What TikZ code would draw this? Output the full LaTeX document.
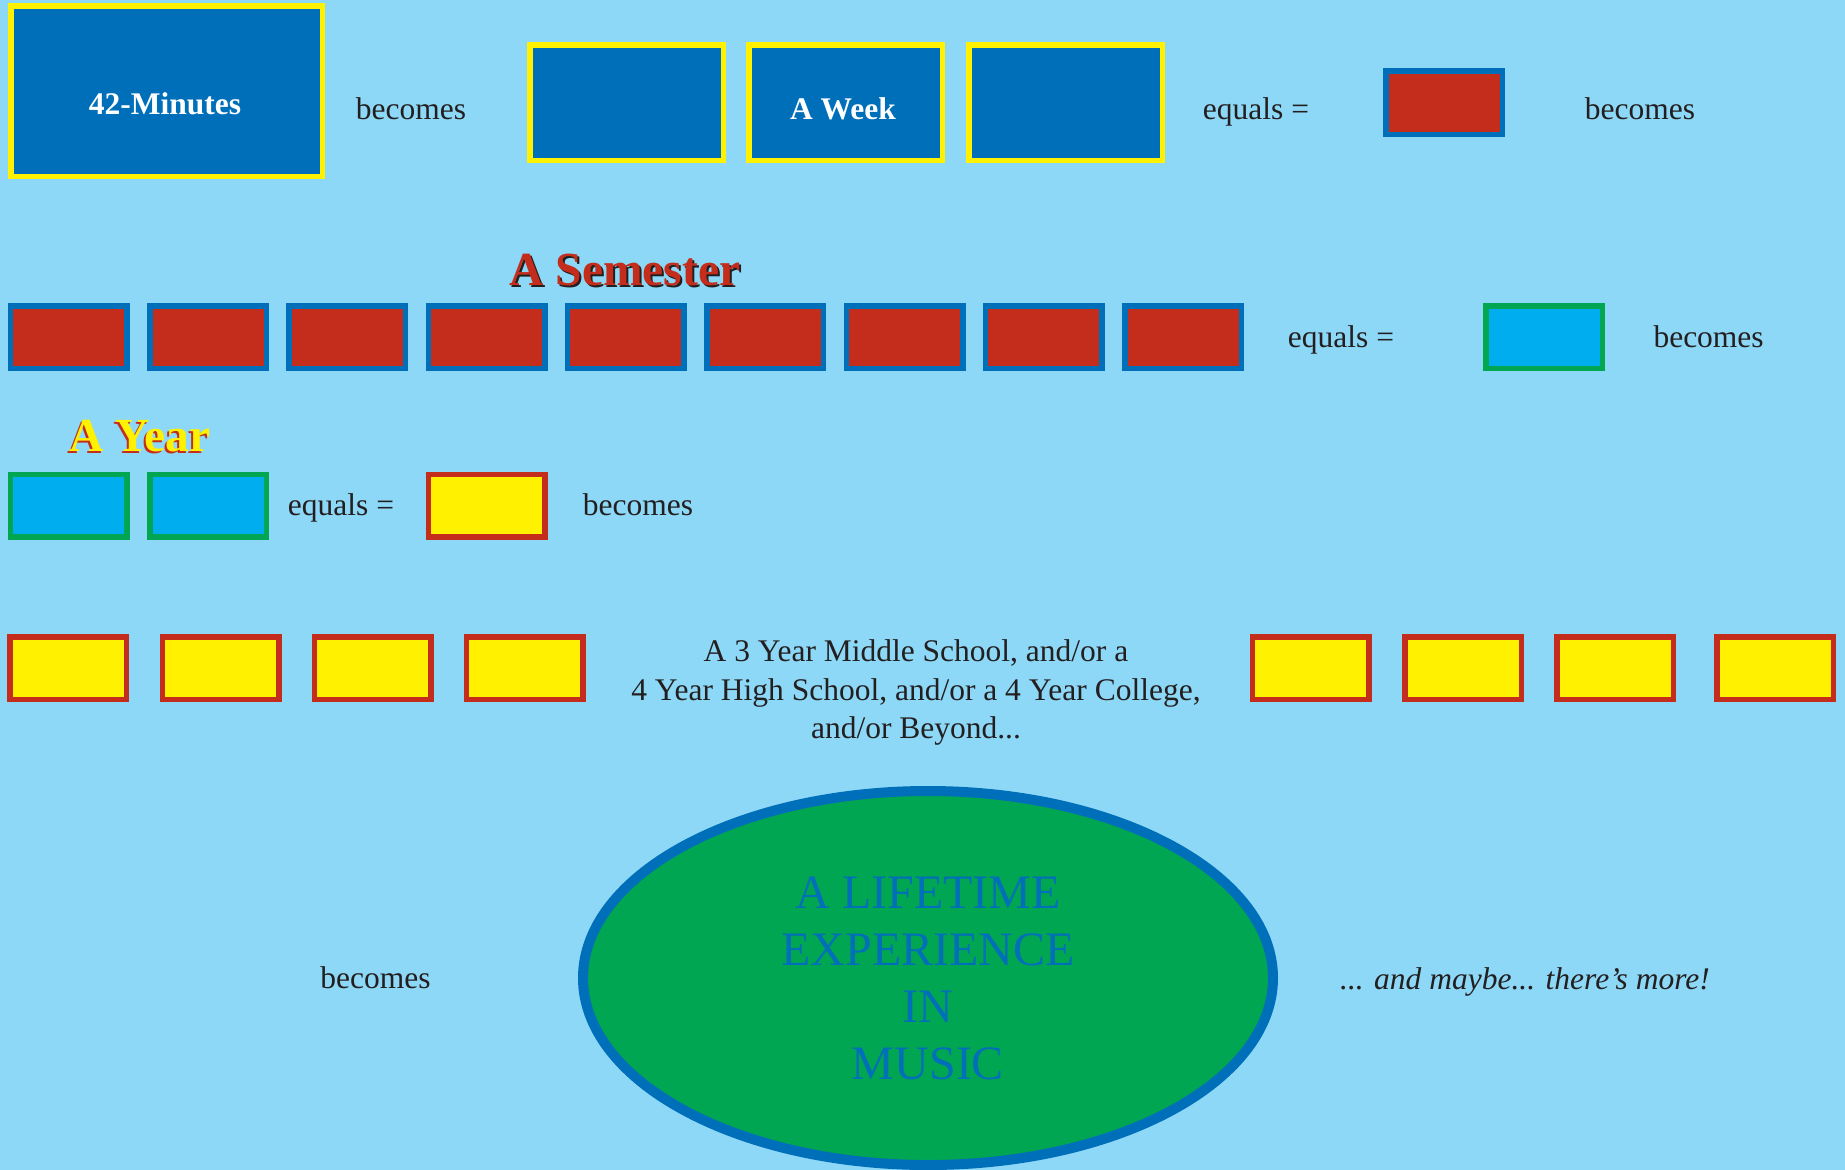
\documentclass[tikz,border=0pt]{standalone}
\usepackage{fontspec}
\setmainfont{Liberation Serif}
\usetikzlibrary{shapes.geometric}
\definecolor{bgblue}{RGB}{141,216,246}
\definecolor{dblue}{RGB}{0,111,186}
\definecolor{yel}{RGB}{255,241,0}
\definecolor{rd}{RGB}{196,45,28}
\definecolor{cy}{RGB}{0,173,238}
\definecolor{gr}{RGB}{0,166,81}
\definecolor{tcol}{RGB}{35,31,32}
\tikzset{
  box/.style={rectangle, inner sep=0pt, line width=5.5pt},
  bigbox/.style={box, fill=dblue, draw=yel, minimum width=311.5pt, minimum height=170.5pt},
  wkbox/.style={box, fill=dblue, draw=yel, minimum width=193.5pt, minimum height=115.5pt},
  redbox/.style={box, fill=rd, draw=dblue, minimum width=116.5pt, minimum height=62.5pt},
  cybox/.style={box, fill=cy, draw=gr, minimum width=116.5pt, minimum height=62.5pt},
  yelbox/.style={box, fill=yel, draw=rd, minimum width=116.5pt, minimum height=62.5pt},
  txt/.style={font=\fontsize{31.5}{38.5}\selectfont, text=tcol, inner sep=0pt, anchor=base},
  wtxt/.style={font=\fontsize{31.5}{38.5}\selectfont\bfseries, text=white, inner sep=0pt, anchor=base},
  title/.style={font=\fontsize{47.5}{52}\selectfont\bfseries, inner sep=0pt, anchor=base}
}
\begin{document}
\begin{tikzpicture}[x=1pt,y=-1pt]
\path[fill=bgblue,use as bounding box] (0,0) rectangle (1845,1170);
% Row 1
\node[bigbox] (min) at (166.5,91) {};
\node[wtxt] (mint) at (165,114) {42-Minutes};
\node[txt] (b1) at (411,119) {becomes};
\node[wkbox] (w1) at (626.5,102.5) {};
\node[wkbox] (w2) at (845.5,102.5) {};
\node[wtxt] (wkt) at (843,119) {A Week};
\node[wkbox] (w3) at (1065.5,102.5) {};
\node[txt] (e1) at (1256,119) {equals =};
\node[box, fill=rd, draw=dblue, minimum width=116.5pt, minimum height=63.5pt] (r0) at (1444,102.5) {};
\node[txt] (b2) at (1640,119) {becomes};
% Row 2
\node[title, text=tcol] (semsh) at (627,287) {A Semester};
\node[title, text=rd] (sem) at (625,285) {A Semester};
\foreach \i in {0,...,8} {
  \node[redbox] (s\i) at (68.7+139.3*\i,337) {};
}
\node[txt] (e2) at (1341,347) {equals =};
\node[cybox] (c0) at (1544,337) {};
\node[txt] (b3) at (1708.6,347) {becomes};
% Row 3
\node[title, text=rd] (yrsh) at (138,453) {A Year};
\node[title, text=yel] (yr) at (140,451) {A Year};
\node[cybox] (c1) at (68.7,505.5) {};
\node[cybox] (c2) at (208,505.5) {};
\node[txt] (e3) at (341,515) {equals =};
\node[yelbox] (y0) at (486.5,505.5) {};
\node[txt] (b4) at (638,515) {becomes};
% Row 4
\node[yelbox] (y1) at (68,668) {};
\node[yelbox] (y2) at (220.5,668) {};
\node[yelbox] (y3) at (372.5,668) {};
\node[yelbox] (y4) at (524.5,668) {};
\node[txt, anchor=north, align=center] (sch) at (916,639.5) {A 3 Year Middle School, and/or a\\4 Year High School, and/or a 4 Year College,\\and/or Beyond...};
\node[yelbox] (y5) at (1310.5,668) {};
\node[yelbox] (y6) at (1463,668) {};
\node[yelbox] (y7) at (1615,668) {};
\node[yelbox] (y8) at (1775,668) {};
% Row 5
\node[txt] (b5) at (375.5,988) {becomes};
\node[ellipse, draw=dblue, line width=10pt, fill=gr, minimum width=690pt, minimum height=374pt, inner sep=0pt,
  text=dblue, align=center, font=\fontsize{48}{57}\selectfont] (life) at (928,978) {A LIFETIME\\EXPERIENCE\\IN\\MUSIC};
\node[txt, font=\fontsize{31.5}{38.5}\selectfont\itshape] (more) at (1525,989) {... and maybe... there’s more!};
\end{tikzpicture}
\end{document}
